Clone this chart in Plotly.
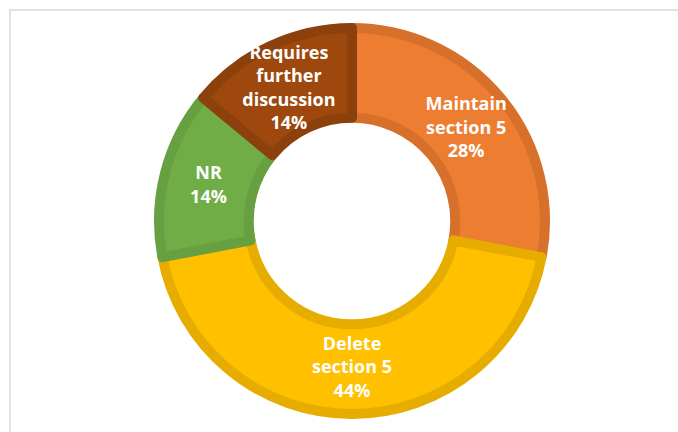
import plotly.graph_objects as go

labels = ["Maintain<br>section 5", "Delete<br>section 5", "NR", "Requires<br>further<br>discussion"]
values = [28, 44, 14, 14]
fill_colors = ["#ED7D31", "#FFC000", "#70AD47", "#9E480E"]
edge_colors = ["#D6702B", "#E6AD00", "#66A040", "#8C400C"]

W, H = 678, 432
cx, cy, R = 352, 221, 193

fig = go.Figure(go.Pie(
    labels=labels,
    values=values,
    sort=False,
    direction="clockwise",
    rotation=0,
    hole=0.535,
    marker=dict(colors=fill_colors, line=dict(color=edge_colors, width=10)),
    textinfo="label+percent",
    texttemplate="%{label}<br>%{percent:.0%}",
    textposition="inside",
    insidetextorientation="horizontal",
    textfont=dict(family="Open Sans", size=18, color="white", weight="bold"),
    showlegend=False,
    hoverinfo="skip",
    domain=dict(x=[(cx - R) / W, (cx + R) / W], y=[1 - (cy + R) / H, 1 - (cy - R) / H]),
))

fig.add_shape(type="rect", xref="paper", yref="paper",
              x0=10 / W, x1=1.05, y0=-0.05, y1=1 - 10 / H,
              line=dict(color="#D9D9D9", width=1.5), fillcolor="rgba(0,0,0,0)", layer="below")

fig.update_layout(
    width=W, height=H,
    margin=dict(l=0, r=0, t=0, b=0),
    paper_bgcolor="white",
    plot_bgcolor="white",
    uniformtext=dict(minsize=18, mode="show"),
)

fig.write_html("out.html")
